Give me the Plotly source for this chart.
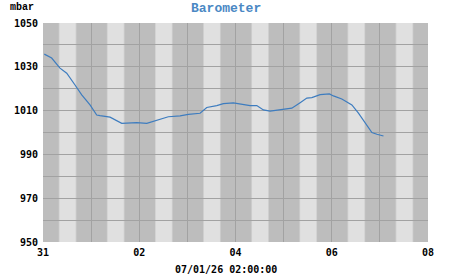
import plotly.graph_objects as go

times = ["2025-12-31 00:39", "2025-12-31 04:19", "2025-12-31 08:28", "2025-12-31 11:50",
         "2025-12-31 15:58", "2025-12-31 19:19", "2025-12-31 23:27", "2026-01-01 02:47",
         "2026-01-01 04:26", "2026-01-01 09:26", "2026-01-01 15:16", "2026-01-01 22:45",
         "2026-01-02 03:45", "2026-01-02 09:32", "2026-01-02 14:31", "2026-01-02 20:21",
         "2026-01-03 00:30", "2026-01-03 06:20", "2026-01-03 09:40", "2026-01-03 14:40",
         "2026-01-03 17:57", "2026-01-03 22:57", "2026-01-04 03:00", "2026-01-04 07:16",
         "2026-01-04 10:38", "2026-01-04 13:55", "2026-01-04 17:15", "2026-01-04 23:54",
         "2026-01-05 04:05", "2026-01-05 08:14", "2026-01-05 11:34", "2026-01-05 14:04",
         "2026-01-05 18:13", "2026-01-05 22:51", "2026-01-06 00:50", "2026-01-06 05:02",
         "2026-01-06 10:02", "2026-01-06 13:19", "2026-01-06 16:39", "2026-01-06 20:01",
         "2026-01-06 22:31", "2026-01-07 01:48"]
pressure = [1035.8, 1034.0, 1029.4, 1027.1, 1021.7, 1017.2, 1012.6, 1008.0,
            1007.7, 1007.0, 1004.2, 1004.5, 1004.2, 1005.7, 1007.2, 1007.6,
            1008.3, 1008.8, 1011.4, 1012.3, 1013.2, 1013.5, 1012.9, 1012.3,
            1012.3, 1010.3, 1009.8, 1010.6, 1011.1, 1013.6, 1015.7, 1015.9,
            1017.3, 1017.6, 1016.7, 1015.3, 1012.6, 1008.8, 1004.2, 1000.0,
            999.2, 998.4]

days = ["2025-12-31", "2026-01-01", "2026-01-02", "2026-01-03", "2026-01-04",
        "2026-01-05", "2026-01-06", "2026-01-07"]
sunrise, sunset = "08:15", "16:15"
twilight_start, twilight_end = "07:50", "16:40"
y_ticks = [950, 970, 990, 1010, 1030, 1050]
title_text = "Barometer"
unit_text = "mbar"
stamp_text = "07/01/26 02:00:00"

fig = go.Figure()
fig.add_trace(go.Scatter(x=times, y=pressure, mode="lines",
                         line=dict(color="#3d7cbf", width=1.2), hoverinfo="skip"))

shapes = []
for d in days:
    shapes.append(dict(type="rect", xref="x", yref="paper", x0=f"{d} {twilight_start}",
                       x1=f"{d} {twilight_end}", y0=0, y1=1, fillcolor="#cfcfcf",
                       line=dict(width=0), layer="below"))
    shapes.append(dict(type="rect", xref="x", yref="paper", x0=f"{d} {sunrise}",
                       x1=f"{d} {sunset}", y0=0, y1=1, fillcolor="#e0e0e0",
                       line=dict(width=0), layer="below"))

tickfont = dict(family="DejaVu Sans Mono", size=10, color="#000000", weight="bold")

fig.update_layout(
    width=451, height=275,
    margin=dict(l=43, r=23, t=23, b=33),
    paper_bgcolor="#ffffff", plot_bgcolor="#bdbdbd",
    showlegend=False, shapes=shapes,
    xaxis=dict(type="date", range=["2025-12-31", "2026-01-08"],
               tick0="2025-12-31", dtick=2 * 86400000, tickformat="%d",
               showgrid=True, gridcolor="#a2a2a2", gridwidth=1,
               minor=dict(dtick=86400000, tick0="2025-12-31", showgrid=True,
                          gridcolor="#a2a2a2", gridwidth=1),
               ticks="", tickfont=tickfont, zeroline=False,
               showline=False, fixedrange=True, ticklabelstandoff=3),
    yaxis=dict(range=[950, 1050], tickvals=y_ticks,
               showgrid=True, gridcolor="#a2a2a2", gridwidth=1,
               minor=dict(dtick=10, tick0=950, showgrid=True,
                          gridcolor="#a2a2a2", gridwidth=1),
               ticks="", tickfont=tickfont, zeroline=False, showline=False,
               fixedrange=True, ticklabelstandoff=4),
    annotations=[
        dict(text=title_text, xref="paper", yref="paper", x=0.476, y=1, yshift=15,
             xanchor="center", yanchor="middle", showarrow=False,
             font=dict(family="Liberation Mono", size=13, color="#4a88c4", weight="bold")),
        dict(text=unit_text, xref="paper", yref="paper", x=0, xshift=-35, y=1, yshift=16,
             xanchor="left", yanchor="middle", showarrow=False,
             font=dict(family="Liberation Mono", size=10, color="#000000", weight="bold")),
        dict(text=stamp_text, xref="paper", yref="paper", x=0.476, y=0, yshift=-27,
             xanchor="center", yanchor="middle", showarrow=False,
             font=tickfont),
    ],
)
fig.write_html("out.html")
